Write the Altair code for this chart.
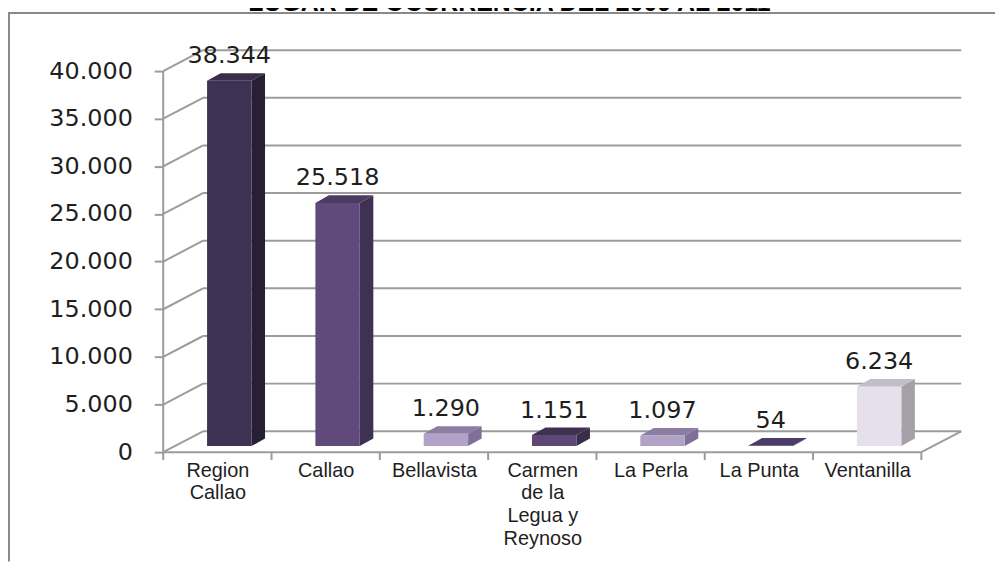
import altair as alt
import pandas as pd

# ---------------- data ----------------
categories = ["Region Callao", "Callao", "Bellavista", "Carmen de la Legua y Reynoso",
              "La Perla", "La Punta", "Ventanilla"]
label_lines = [["Region", "Callao"], ["Callao"], ["Bellavista"],
               ["Carmen", "de la", "Legua y", "Reynoso"], ["La Perla"], ["La Punta"], ["Ventanilla"]]
values = [38344, 25518, 1290, 1151, 1097, 54, 6234]
y_ticks = [0, 5000, 10000, 15000, 20000, 25000, 30000, 35000, 40000]
title_text = "LUGAR DE OCURRENCIA DEL 2009 AL 2011"

front_colors = ["#3F3151", "#604A7B", "#B3A2C7", "#5C4777", "#B3A2C7", "#3F3151", "#E6E0EC"]
side_colors = ["#271F33", "#3F3151", "#7E7098", "#3A2D4C", "#7E7098", "#2A2137", "#A3A0A8"]
top_colors = ["#3A2D4B", "#4B3B63", "#8C7DA3", "#3F3151", "#8C7DA3", "#4B3C68", "#C2BEC8"]

# ---------------- style / geometry ----------------
N = len(categories)
XMAX = 7.68
YMAX = 44386
WALL_DU, WALL_DV = 0.3675, 2193      # depth of the 3-D box
BAR_OFF_DV = 640                     # bars sit a little behind the front plane
BAR_LEFT, BAR_W = 0.405, 0.41
BAR_DU, BAR_DV = 0.125, 800          # depth of each bar
GRID = "#9C9C9C"
TXT = "#1E1E1E"
W, H = 836, 425

xs = alt.Scale(domain=[0, XMAX], nice=False, zero=False)
ys = alt.Scale(domain=[0, YMAX], nice=False, zero=False)

# ---------------- tables built from the arrays ----------------
lines = []
for g in y_ticks:
    lines.append(dict(x0=0, y0=g, x1=WALL_DU, y1=g + WALL_DV))                     # diagonal
    lines.append(dict(x0=WALL_DU, y0=g + WALL_DV, x1=N + WALL_DU, y1=g + WALL_DV))  # back wall
lines.append(dict(x0=0, y0=0, x1=N, y1=0))                                          # floor front
lines.append(dict(x0=N, y0=0, x1=N + WALL_DU, y1=WALL_DV))                          # floor right
lines.append(dict(x0=0, y0=0, x1=0, y1=y_ticks[-1]))                                # front y-axis
lines_df = pd.DataFrame(lines)

ticks_df = pd.DataFrame({"x0": list(range(N + 1)), "y0": [0] * (N + 1)})

fronts, sides, tops, labels = [], [], [], []
for i, (c, v) in enumerate(zip(categories, values)):
    xl = i + BAR_LEFT
    xr = xl + BAR_W
    b = BAR_OFF_DV
    t = b + v
    fronts.append(dict(bar=c, x0=xl, x1=xr, y0=b, y1=t, color=front_colors[i]))
    sides += [dict(bar=c, x0=xr, y0=b, y1=t, color=side_colors[i]),
              dict(bar=c, x0=xr + BAR_DU, y0=b + BAR_DV, y1=t + BAR_DV, color=side_colors[i])]
    tops += [dict(bar=c, x0=xl, y0=t, y1=t, color=top_colors[i]),
             dict(bar=c, x0=xl + BAR_DU, y0=t, y1=t + BAR_DV, color=top_colors[i]),
             dict(bar=c, x0=xr, y0=t, y1=t + BAR_DV, color=top_colors[i]),
             dict(bar=c, x0=xr + BAR_DU, y0=t + BAR_DV, y1=t + BAR_DV, color=top_colors[i])]
    labels.append(dict(bar=c, x0=(xl + xr) / 2, y0=t + BAR_DV,
                       text=f"{v:,}".replace(",", ".")))
fronts_df = pd.DataFrame(fronts)
sides_df = pd.DataFrame(sides)
tops_df = pd.DataFrame(tops)
labels_df = pd.DataFrame(labels)

label_expr = ("[" + ",".join("[" + ",".join(f"'{s}'" for s in ll) + "]" for ll in label_lines)
              + "][floor(datum.value)]")

x_axis = alt.Axis(values=[i + 0.5 for i in range(N)], labelExpr=label_expr, ticks=False,
                  domain=False, grid=False, title=None, labelFont="Liberation Sans",
                  labelFontSize=20, labelLineHeight=23, labelColor=TXT, labelPadding=8,
                  labelBaseline="top", labelFlush=False, labelOverlap=False, labelBound=False)
y_axis = alt.Axis(values=y_ticks, labelExpr="replace(format(datum.value, ','), ',', '.')",
                  tickSize=9, tickColor=GRID, tickWidth=2, domain=False, grid=False,
                  title=None, labelFont="DejaVu Sans", labelFontSize=24, labelColor=TXT,
                  labelPadding=22)


def X():
    return alt.X("x0:Q", scale=xs, axis=x_axis)


def Y():
    return alt.Y("y0:Q", scale=ys, axis=y_axis, stack=None)


grid = alt.Chart(lines_df).mark_rule(color=GRID, strokeWidth=2).encode(
    x=X(), y=Y(), x2="x1:Q", y2="y1:Q")

cat_ticks = alt.Chart(ticks_df).mark_rule(color=GRID, strokeWidth=2).encode(
    x=X(), y=Y(), y2=alt.value(H + 8))

side = alt.Chart(sides_df).mark_area(interpolate="linear").encode(
    x=X(), y=Y(), y2="y1:Q",
    color=alt.Color("color:N", scale=None),
    detail="bar:N")

top = alt.Chart(tops_df).mark_area(interpolate="linear").encode(
    x=X(), y=Y(), y2="y1:Q",
    color=alt.Color("color:N", scale=None),
    detail="bar:N")

front = alt.Chart(fronts_df).mark_rect().encode(
    x=X(), x2="x1:Q", y=Y(), y2="y1:Q",
    color=alt.Color("color:N", scale=None))

text = alt.Chart(labels_df).mark_text(font="DejaVu Sans", fontSize=24, color=TXT,
                                      baseline="alphabetic", dy=-10).encode(
    x=X(), y=Y(), text="text:N")

frame_df = pd.DataFrame({"k": [0]})
title = alt.Chart(frame_df).mark_text(font="Liberation Sans", fontWeight="bold", fontSize=25,
                                      color="#000000", baseline="alphabetic", align="center").encode(
    x=alt.value(348), y=alt.value(-18), text=alt.value(title_text))
frame_left = alt.Chart(frame_df).mark_rule(color="#8A8A8A", strokeWidth=2).encode(
    x=alt.value(-155), y=alt.value(-17), y2=alt.value(H + 110))
frame_top = alt.Chart(frame_df).mark_rule(color="#8A8A8A", strokeWidth=2).encode(
    x=alt.value(-156), x2=alt.value(W), y=alt.value(-16.5))

chart = alt.layer(grid, cat_ticks, side, top, front, text, title, frame_left, frame_top).properties(
    width=W, height=H,
    autosize=alt.AutoSizeParams(type="none"),
    padding={"left": 156, "top": 20, "right": 0, "bottom": 110},
    background="white",
).configure_view(stroke=None)

chart.save("out.html", embed_options={"renderer": "svg", "actions": False})
